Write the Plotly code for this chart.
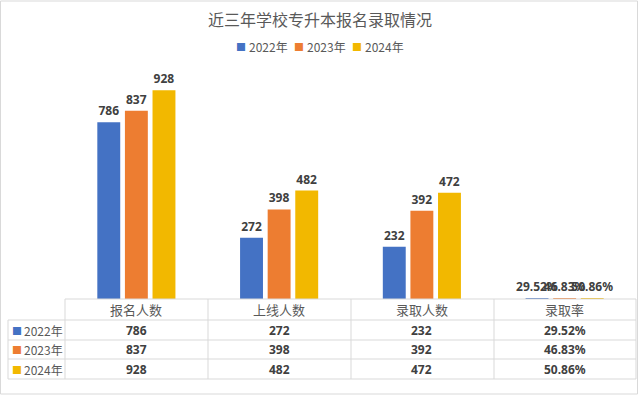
import plotly.graph_objects as go

# ---- data ----
categories = ["报名人数", "上线人数", "录取人数", "录取率"]
years = ["2022年", "2023年", "2024年"]
values_2022 = [786, 272, 232, 0.2952]
values_2023 = [837, 398, 392, 0.4683]
values_2024 = [928, 482, 472, 0.5086]
series = [values_2022, values_2023, values_2024]
colors = ["#4472C4", "#ED7D31", "#F2B800"]
title = "近三年学校专升本报名录取情况"

W, H = 638, 395


def px(x):
    return x / W


def py(y):
    return (H - y) / H


def fmt(v, cat):
    return f"{v*100:.2f}%" if cat == "录取率" else f"{v:g}"


NUM_FONT = dict(family="Noto Sans, Open Sans, sans-serif", size=12, color="#404040", weight="bold")
CJK_FONT = "Noto Sans CJK SC"

fig = go.Figure()
for name, vals, col in zip(years, series, colors):
    fig.add_trace(go.Bar(
        x=categories, y=vals, name=name, marker_color=col,
        marker_line_width=0,
        text=[fmt(v, c) for v, c in zip(vals, categories)],
        textposition="outside", cliponaxis=False, constraintext="none",
        textfont=NUM_FONT,
        showlegend=False,
    ))

shapes = []
line = dict(color="#D9D9D9", width=1)
# outer chart border
shapes.append(dict(type="rect", xref="paper", yref="paper", x0=px(0.5), x1=px(637.5), y0=py(394), y1=py(1),
                   line=dict(color="#D9D9D9", width=1)))
# table grid
col_edges = [65, 208, 351, 494, 636]
row_edges = [299, 320, 340, 359, 379]
shapes.append(dict(type="line", xref="paper", yref="paper", x0=px(65), x1=px(636), y0=py(299), y1=py(299), line=line))
for r in row_edges[1:]:
    shapes.append(dict(type="line", xref="paper", yref="paper", x0=px(8), x1=px(636), y0=py(r), y1=py(r), line=line))
for c in col_edges:
    shapes.append(dict(type="line", xref="paper", yref="paper", x0=px(c), x1=px(c), y0=py(299), y1=py(379), line=line))
shapes.append(dict(type="line", xref="paper", yref="paper", x0=px(8), x1=px(8), y0=py(320), y1=py(379), line=line))

annotations = []
# title
annotations.append(dict(text=title, xref="paper", yref="paper", x=px(319.5), y=py(18.5), showarrow=False,
                        xanchor="center", yanchor="middle",
                        font=dict(family=CJK_FONT, size=16, color="#595959")))
# legend (key square + label)
legend_key_x = [241, 299, 357]
for name, col, lx in zip(years, colors, legend_key_x):
    annotations.append(dict(text="■", xref="paper", yref="paper",
                            x=px(lx), y=py(47), showarrow=False, xanchor="center", yanchor="middle",
                            font=dict(family=CJK_FONT, size=10, color=col)))
    annotations.append(dict(text=name, xref="paper", yref="paper",
                            x=px(lx + 6), y=py(47), showarrow=False, xanchor="left", yanchor="middle",
                            font=dict(family=CJK_FONT, size=12, color="#595959")))
# table header
header_y = py(309.5)
for c in categories:
    annotations.append(dict(text=c, xref="x", yref="paper", x=c, y=header_y, showarrow=False,
                            xanchor="center", yanchor="middle",
                            font=dict(family=CJK_FONT, size=13, color="#595959")))
row_centers = [330, 349.5, 369]
for name, vals, col, rc in zip(years, series, colors, row_centers):
    annotations.append(dict(text="■", xref="paper", yref="paper",
                            x=px(17), xanchor="center", yanchor="middle", y=py(rc), showarrow=False,
                            font=dict(family=CJK_FONT, size=10, color=col)))
    annotations.append(dict(text=name, xref="paper", yref="paper",
                            x=px(22), xanchor="left", yanchor="middle", y=py(rc), showarrow=False,
                            font=dict(family=CJK_FONT, size=12, color="#595959")))
    for c, v in zip(categories, vals):
        annotations.append(dict(text=fmt(v, c), xref="x", yref="paper", x=c, y=py(rc), showarrow=False,
                                xanchor="center", yanchor="middle", font=NUM_FONT))

fig.update_layout(
    width=W, height=H,
    margin=dict(l=0, r=0, t=0, b=0),
    paper_bgcolor="white", plot_bgcolor="white",
    barmode="group", bargap=0.42, bargroupgap=0.17,
    xaxis=dict(domain=[px(65), px(636)], showticklabels=False, showgrid=False, zeroline=False,
               showline=False, range=[-0.5, 3.5]),
    yaxis=dict(domain=[py(299), py(74)], range=[0, 1000], showticklabels=False, showgrid=False,
               zeroline=False, showline=False),
    shapes=shapes, annotations=annotations,
)

fig.write_html("out.html", config={"displayModeBar": False},
               post_script="document.body.style.margin='0';")
